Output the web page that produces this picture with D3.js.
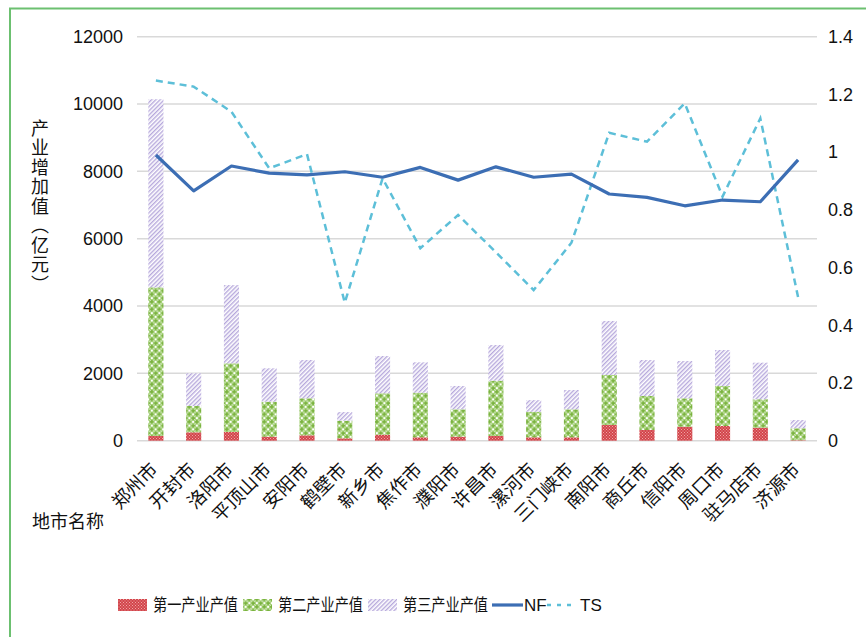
<!DOCTYPE html>
<html>
<head>
<meta charset="utf-8">
<script src="https://cdn.jsdelivr.net/npm/d3@7"></script>
<style>
  body { margin: 0; background: #fff; }
  svg { display: block; }
  text { font-family: "Liberation Sans", Arial, "Noto Sans CJK SC", sans-serif; fill: #111; }
  .cjk { font-family: "Noto Sans CJK SC", sans-serif; }
</style>
</head>
<body>
<div id="chart"></div>
<script>
// city names
const cities = ["郑州市", "开封市", "洛阳市", "平顶山市", "安阳市", "鹤壁市", "新乡市", "焦作市", "濮阳市",
  "许昌市", "漯河市", "三门峡市", "南阳市", "商丘市", "信阳市", "周口市", "驻马店市", "济源市"];

// value added by sector (亿元)
const primary = [140, 250, 258, 120, 160, 71, 178, 100, 120, 140, 100, 100, 466, 318, 416, 437, 386, 15];
const secondary = [4414, 780, 2040, 1038, 1099, 523, 1230, 1326, 812, 1642, 760, 832, 1485, 1010, 843, 1188, 844, 353];
const tertiary = [5589, 972, 2324, 992, 1138, 256, 1107, 902, 693, 1060, 345, 574, 1605, 1069, 1108, 1069, 1087, 247];

// right axis series
const nf = [0.990, 0.866, 0.952, 0.927, 0.921, 0.932, 0.913, 0.947, 0.903, 0.949, 0.913, 0.924, 0.855, 0.843, 0.814, 0.834, 0.828, 0.973];
const ts = [1.248, 1.227, 1.140, 0.944, 0.993, 0.478, 0.909, 0.667, 0.782, 0.653, 0.522, 0.686, 1.067, 1.036, 1.169, 0.846, 1.117, 0.497];

const leftTicks = [0, 2000, 4000, 6000, 8000, 10000, 12000];
const rightTicks = [0, 0.2, 0.4, 0.6, 0.8, 1, 1.2, 1.4];
const yTitle = "产业增加值（亿元）";
const xTitle = "地市名称";

const W = 866, H = 637;
const plot = { left: 137, right: 817, top: 36.7, bottom: 440.7 };

const svg = d3.select("#chart").append("svg")
  .attr("width", W)
  .attr("height", H);

// patterns for the bars
const defs = svg.append("defs");

const pRed = defs.append("pattern")
  .attr("id", "pRed")
  .attr("patternUnits", "userSpaceOnUse")
  .attr("width", 3).attr("height", 3);
pRed.append("rect").attr("width", 3).attr("height", 3).attr("fill", "#d2454b");
pRed.append("rect").attr("x", 0).attr("y", 0).attr("width", 1).attr("height", 1).attr("fill", "#f0a5a5");
pRed.append("rect").attr("x", 1.5).attr("y", 1.5).attr("width", 1).attr("height", 1).attr("fill", "#f0a5a5");

const pGreen = defs.append("pattern")
  .attr("id", "pGreen")
  .attr("patternUnits", "userSpaceOnUse")
  .attr("width", 7.5).attr("height", 7.5);
pGreen.append("rect").attr("width", 7.5).attr("height", 7.5).attr("fill", "#ffffff");
[[1.875, 1.875], [5.625, 5.625]].forEach(p => {
  pGreen.append("circle").attr("cx", p[0]).attr("cy", p[1]).attr("r", 1.9).attr("fill", "#7ab33e");
});
[[5.625, 1.875], [1.875, 5.625]].forEach(p => {
  pGreen.append("circle").attr("cx", p[0]).attr("cy", p[1]).attr("r", 1.7)
    .attr("fill", "#fff").attr("stroke", "#9ccd6a").attr("stroke-width", 1);
});

const pPurple = defs.append("pattern")
  .attr("id", "pPurple")
  .attr("patternUnits", "userSpaceOnUse")
  .attr("width", 3).attr("height", 3)
  .attr("patternTransform", "rotate(45)");
pPurple.append("rect").attr("width", 3).attr("height", 3).attr("fill", "#ffffff");
pPurple.append("rect").attr("width", 1.4).attr("height", 3).attr("fill", "#b7a9dc");

// green frame
svg.append("rect")
  .attr("x", 10).attr("y", 8.5)
  .attr("width", 900).attr("height", 700)
  .attr("fill", "none")
  .attr("stroke", "#6cc070")
  .attr("stroke-width", 2);

// scales
const x = d3.scaleBand().domain(cities).range([plot.left, plot.right]).paddingInner(0.6).paddingOuter(0.3);
const xc = d => x(d) + x.bandwidth() / 2;
const y = d3.scaleLinear().domain([0, 12000]).range([plot.bottom, plot.top]);
const y2 = d3.scaleLinear().domain([0, 1.4]).range([plot.bottom, plot.top]);

// gridlines
svg.append("g")
  .selectAll("line")
  .data(leftTicks)
  .join("line")
  .attr("x1", plot.left).attr("x2", plot.right)
  .attr("y1", d => y(d)).attr("y2", d => y(d))
  .attr("stroke", "#d9d9d9")
  .attr("stroke-width", 1.5);

// left axis
const gl = svg.append("g")
  .attr("transform", `translate(${plot.left - 14},0)`)
  .call(d3.axisLeft(y).tickValues(leftTicks).tickSize(0).tickPadding(0).tickFormat(d3.format("d")));
gl.select(".domain").remove();
gl.selectAll("text").attr("font-size", 18).attr("font-family", "Liberation Sans, Arial, sans-serif").attr("fill", "#111");

// right axis
const gr = svg.append("g")
  .attr("transform", `translate(${plot.right + 11},0)`)
  .call(d3.axisRight(y2).tickValues(rightTicks).tickSize(0).tickPadding(0).tickFormat(d => String(+d.toFixed(1))));
gr.select(".domain").remove();
gr.selectAll("text").attr("font-size", 18).attr("font-family", "Liberation Sans, Arial, sans-serif").attr("fill", "#111");

// stacked bars
const rows = cities.map((c, i) => ({ city: c, p: primary[i], s: secondary[i], t: tertiary[i] }));
const stack = d3.stack().keys(["p", "s", "t"])(rows);
const fills = { p: "url(#pRed)", s: "url(#pGreen)", t: "url(#pPurple)" };

svg.append("g")
  .selectAll("g")
  .data(stack)
  .join("g")
  .attr("fill", d => fills[d.key])
  .selectAll("rect")
  .data(d => d)
  .join("rect")
  .attr("x", d => x(d.data.city))
  .attr("width", x.bandwidth())
  .attr("y", d => y(d[1]))
  .attr("height", d => y(d[0]) - y(d[1]));

// lines
const line = d3.line()
  .x((d, i) => xc(cities[i]))
  .y(d => y2(d));

svg.append("path")
  .datum(ts)
  .attr("fill", "none")
  .attr("stroke", "#5dbfd8")
  .attr("stroke-width", 2.5)
  .attr("stroke-dasharray", "7,5")
  .attr("d", line);

svg.append("path")
  .datum(nf)
  .attr("fill", "none")
  .attr("stroke", "#3c6eb4")
  .attr("stroke-width", 3.2)
  .attr("stroke-linejoin", "round")
  .attr("d", line);

// x labels, rotated
svg.append("g")
  .selectAll("text")
  .data(cities)
  .join("text")
  .attr("class", "cjk")
  .attr("font-size", 18.5)
  .attr("text-anchor", "end")
  .attr("transform", d => `translate(${xc(d) + 3},${plot.bottom + 30}) rotate(-45)`)
  .text(d => d);

// axis titles
svg.append("text")
  .attr("class", "cjk")
  .attr("x", 40).attr("y", 119)
  .attr("font-size", 18)
  .style("writing-mode", "vertical-rl")
  .style("letter-spacing", "1.5px")
  .text(yTitle);

svg.append("text")
  .attr("class", "cjk")
  .attr("x", 32).attr("y", 528)
  .attr("font-size", 18)
  .text(xTitle);

// legend
const legend = svg.append("g").attr("transform", "translate(0,605)");
const legendBars = [
  { label: "第一产业产值", fill: "url(#pRed)", x: 118 },
  { label: "第二产业产值", fill: "url(#pGreen)", x: 243 },
  { label: "第三产业产值", fill: "url(#pPurple)", x: 368 }
];
legendBars.forEach(l => {
  legend.append("rect")
    .attr("x", l.x).attr("y", -6)
    .attr("width", 29).attr("height", 12)
    .attr("fill", l.fill);
  legend.append("text")
    .attr("class", "cjk")
    .attr("x", l.x + 35).attr("y", 0)
    .attr("dy", "0.35em")
    .attr("font-size", 17)
    .attr("textLength", 85)
    .attr("lengthAdjust", "spacingAndGlyphs")
    .text(l.label);
});
legend.append("line")
  .attr("x1", 492).attr("x2", 523)
  .attr("stroke", "#3c6eb4").attr("stroke-width", 3.2);
legend.append("text")
  .attr("x", 524).attr("dy", "0.35em")
  .attr("font-size", 17)
  .text("NF");
legend.append("line")
  .attr("x1", 547).attr("x2", 573)
  .attr("stroke", "#5dbfd8").attr("stroke-width", 2.5)
  .attr("stroke-dasharray", "4,6");
legend.append("text")
  .attr("x", 580).attr("dy", "0.35em")
  .attr("font-size", 17)
  .text("TS");
</script>
</body>
</html>
